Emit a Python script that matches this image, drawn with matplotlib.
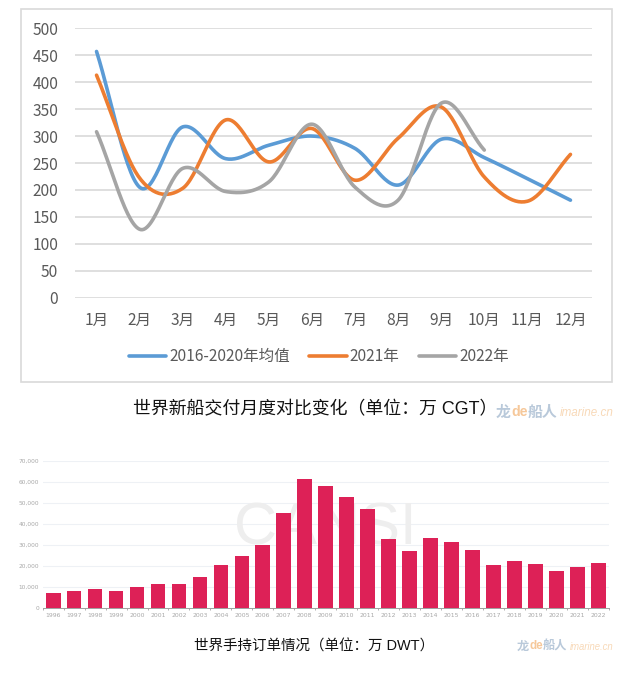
import numpy as np
import matplotlib
matplotlib.use('Agg')
import matplotlib.pyplot as plt
from matplotlib.patches import Rectangle

months = ['1月', '2月', '3月', '4月', '5月', '6月', '7月', '8月', '9月', '10月', '11月', '12月']
avg_2016_2020 = [457, 205, 317, 258, 283, 300, 277, 209, 294, 260, 221, 181]
y2021 = [413, 222, 203, 330, 252, 314, 218, 296, 354, 224, 179, 266]
y2022 = [308, 127, 240, 197, 215, 322, 205, 181, 361, 274]
line_ticks = [0, 50, 100, 150, 200, 250, 300, 350, 400, 450, 500]

years = [str(y) for y in range(1996, 2023)]
orders = [7450, 8080, 9000, 8400, 10300, 11700, 11400, 14700, 20600, 24700, 30300, 45200, 61300,
          58300, 52800, 47000, 33100, 27400, 33400, 31700, 27900, 20600, 22500, 21000, 17900, 19600, 21400]
bar_ticks = [0, 10000, 20000, 30000, 40000, 50000, 60000, 70000]

W, H = 637, 676
CN = ['Noto Sans CJK SC', 'DejaVu Sans']
CAP = ['Liberation Sans', 'Noto Sans CJK SC']


def axes_px(fig, left, top, right, bottom):
    return fig.add_axes([left / W, 1 - bottom / H, (right - left) / W, (bottom - top) / H])


def smooth(values, n=30):
    # same kind of bezier smoothing a spreadsheet line chart uses
    v = np.array(values, dtype=float)
    xs, ys = [], []
    for i in range(len(v) - 1):
        p1 = v[i]
        p2 = v[i + 1]
        # ends get a mirrored neighbour so the first and last stretch stay straight
        p0 = v[i - 1] if i > 0 else 2 * p1 - p2
        p3 = v[i + 2] if i + 2 < len(v) else 2 * p2 - p1
        c1 = p1 + (p2 - p0) / 6
        c2 = p2 - (p3 - p1) / 6
        t = np.linspace(0, 1, n)
        ys.append((1 - t)**3 * p1 + 3 * (1 - t)**2 * t * c1 + 3 * (1 - t) * t**2 * c2 + t**3 * p2)
        xs.append(i + t)
    return np.concatenate(xs), np.concatenate(ys)


fig = plt.figure(figsize=(W / 100, H / 100), dpi=100)
fig.patch.set_facecolor('white')

# frame round the line chart
fig.add_artist(Rectangle((20.5 / W, 1 - 382 / H), 591 / W, 373.5 / H, transform=fig.transFigure,
                         fill=False, edgecolor='#d9d9d9', linewidth=1.2))

ax = axes_px(fig, 75, 28.3, 592, 297.7)
ax.set_xlim(-0.5, 11.5)
ax.set_ylim(0, 500)
ax.set_yticks(line_ticks)
ax.set_xticks(range(12))
ax.set_xticklabels(months, family=CN, fontsize=11.2, color='#595959')
ax.tick_params(axis='y', labelsize=11.2, labelcolor='#595959', length=0, pad=12)
ax.tick_params(axis='x', length=0, pad=10.5)
ax.grid(axis='y', color='#d9d9d9', linewidth=1.2)
ax.set_axisbelow(True)
for s in ax.spines.values():
    s.set_visible(False)
for label in ax.get_yticklabels():
    label.set_family(CN)

line_series = [('2016-2020年均值', avg_2016_2020, '#5b9bd5'), ('2021年', y2021, '#ed7d31'), ('2022年', y2022, '#a5a5a5')]
for name, vals, col in line_series:
    sx, sy = smooth(vals)
    ax.plot(sx, sy, color=col, linewidth=2.6, label=name, solid_capstyle='round', clip_on=False)

leg = ax.legend(loc='upper center', bbox_to_anchor=(0.472, -0.135), ncol=3, frameon=False, handlelength=2.4,
                handletextpad=0.2, columnspacing=1.25, prop={'family': CN, 'size': 11.2})
for t in leg.get_texts():
    t.set_color('#595959')

fig.text(315 / W, 1 - 410 / H, '世界新船交付月度对比变化（单位：万 CGT）', family=CAP, fontsize=12.9,
         ha='center', va='center', color='#111111')

# bars
bx = axes_px(fig, 42.7, 461, 608.7, 608.3)
bx.set_xlim(-0.5, 26.5)
bx.set_ylim(0, 70000)
bx.bar(range(27), orders, width=0.7, color='#dd2157', zorder=3)
bx.set_yticks(bar_ticks)
bx.set_yticklabels(['{:,}'.format(v) for v in bar_ticks], fontsize=4.2, color='#a8a8a8')
bx.set_xticks(range(27))
bx.set_xticklabels(years, fontsize=4.4, color='#a8a8a8')
bx.set_xticks(np.arange(-0.5, 27, 1), minor=True)
bx.tick_params(axis='x', which='major', length=0, pad=3.5)
bx.tick_params(axis='x', which='minor', length=1.5, width=0.6, color='#a0a0a0')
bx.tick_params(axis='y', length=0, pad=2.5)
bx.grid(axis='y', color='#eef1f5', linewidth=0.8, zorder=0)
bx.set_axisbelow(True)
for s in ['top', 'right', 'left']:
    bx.spines[s].set_visible(False)
bx.spines['bottom'].set_color('#a0a0a0')
bx.spines['bottom'].set_linewidth(0.7)

# faint logo behind the bars
bx.text(0.499, 0.54, 'CANSI', transform=bx.transAxes, fontsize=43, color='#eeeeee', ha='center', va='center',
        family='Liberation Sans', zorder=2)

fig.text(314 / W, 1 - 646.5 / H, '世界手持订单情况（单位：万 DWT）', family=CAP, fontsize=10.45,
         ha='center', va='center', color='#111111')


def watermark(x, y, size):
    a = fig.text(x / W, 1 - y / H, '龙', family=CN, fontsize=size, weight='bold', color='#b9c9da', ha='left', va='center')
    r = fig.canvas.get_renderer()
    box = a.get_window_extent(r)
    b = fig.text(box.x1 / W, 1 - y / H, 'de', family='Liberation Sans', weight='bold', fontsize=size * 0.95,
                 color='#f6c89a', ha='left', va='center')
    box = b.get_window_extent(r)
    c = fig.text(box.x1 / W, 1 - y / H, '船人', family=CN, fontsize=size, weight='bold', color='#b9c9da', ha='left', va='center')
    box = c.get_window_extent(r)
    fig.text(box.x1 / W + 0.004, 1 - (y + 1) / H, 'imarine.cn', family='Liberation Sans', style='italic',
             fontsize=size * 0.78, color='#f8d9b8', ha='left', va='center')


watermark(496, 411.5, 10.7)
watermark(517, 646, 8.8)

fig.savefig('out.png', dpi=100)
